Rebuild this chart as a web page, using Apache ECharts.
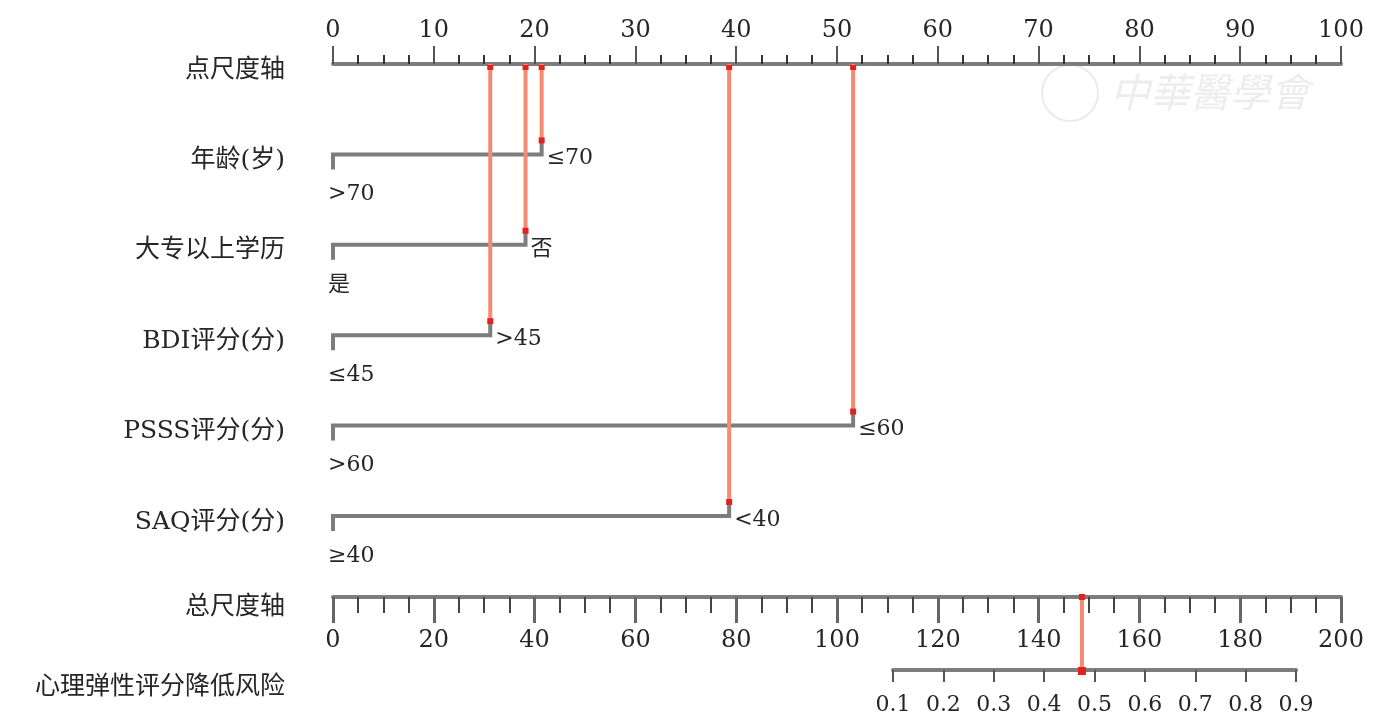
<!DOCTYPE html>
<html>
<head>
<meta charset="utf-8">
<script src="https://cdn.jsdelivr.net/npm/echarts@6/dist/echarts.min.js"></script>
<style>
  html, body { margin: 0; padding: 0; background: #fff; }
  #chart { width: 1380px; height: 726px; }
</style>
</head>
<body>
<div id="chart"></div>
<script>
  // 行名称（点尺度轴 + 各变量）
  const rowNames = ['点尺度轴', '年龄(岁)', '大专以上学历', 'BDI评分(分)', 'PSSS评分(分)', 'SAQ评分(分)']
  // 各变量右端对应的得分
  const varPoints = [20.7, 19.1, 15.6, 51.6, 39.3]
  // 左端（0分）水平 / 右端水平
  const lowLevels = ['>70', '是', '≤45', '>60', '≥40']
  const highLevels = ['≤70', '否', '>45', '≤60', '<40']
  // 总分及风险轴
  const totalLabel = '总尺度轴'
  const riskLabel = '心理弹性评分降低风险'
  const totalPoints = [148.6]
  const riskMin = 0.1
  const riskMax = 0.9

  const GREY = '#7d7d7d'
  const RED_LINE = '#f48a72'
  const RED_DOT = '#e3221e'
  const TXT = '#262626'
  const NUM_FONT = "'DejaVu Serif', 'Noto Sans CJK SC'"
  const CJK_FONT = "'DejaVu Serif', 'Noto Sans CJK SC'"

  let chart = echarts.init(document.getElementById('chart'))

  let option = {
    animation: false,
    backgroundColor: '#fff',
    grid: [
      { left: 333, right: 39, top: 64, height: 452 },
      { left: 333, right: 39, top: 597, height: 73 },
      { left: 893, right: 84, top: 640, height: 30 }
    ],
    graphic: [
      // 水印
      { type: 'circle', shape: { cx: 1070, cy: 93, r: 28 }, style: { stroke: '#ebebeb', fill: null, lineWidth: 2 }, z: -1 },
      { type: 'text', left: 1110, top: 72, z: -1,
        style: { text: '中華醫學會', fontSize: 40, fontStyle: 'italic', fontFamily: 'Noto Sans CJK TC', fill: '#ededed' } }
    ],
    xAxis: [
      {
        gridIndex: 0, type: 'value', position: 'top', min: 0, max: 100, interval: 10,
        axisLine: { show: true, onZero: false, lineStyle: { color: GREY, width: 4 } },
        axisTick: { show: true, length: 18, lineStyle: { color: '#555', width: 2 } },
        minorTick: { show: true, splitNumber: 4, length: 9, lineStyle: { color: '#333', width: 2 } },
        axisLabel: { margin: 21, fontSize: 24, fontFamily: NUM_FONT, color: TXT },
        splitLine: { show: false }
      },
      {
        gridIndex: 1, type: 'value', position: 'top', min: 0, max: 200, interval: 20,
        axisLine: { show: true, onZero: false, lineStyle: { color: GREY, width: 4 } },
        axisTick: { show: true, inside: true, length: 26, lineStyle: { color: '#666', width: 3 } },
        minorTick: { show: true, splitNumber: 4, length: 16, lineStyle: { color: '#444', width: 2 } },
        axisLabel: { inside: true, margin: 32, fontSize: 24, fontFamily: NUM_FONT, color: TXT },
        splitLine: { show: false }
      },
      {
        gridIndex: 2, type: 'value', position: 'bottom', min: riskMin, max: riskMax, interval: 0.1,
        axisLine: { show: true, onZero: false, lineStyle: { color: GREY, width: 4 } },
        axisTick: { show: true, length: 12, lineStyle: { color: '#555', width: 2 } },
        axisLabel: { margin: 24, fontSize: 22, fontFamily: NUM_FONT, color: TXT,
          formatter: function(v) { return v.toFixed(1) } },
        splitLine: { show: false }
      }
    ],
    yAxis: [
      {
        gridIndex: 0, type: 'value', min: 0, max: 5, interval: 1, inverse: true,
        axisLine: { show: false }, axisTick: { show: false }, splitLine: { show: false },
        axisLabel: { margin: 48, fontSize: 25, fontFamily: CJK_FONT, color: TXT,
          verticalAlign: 'top', lineHeight: 12,
          formatter: function(v) { return rowNames[v] || '' } }
      },
      {
        gridIndex: 1, type: 'value', min: 0, max: 1, interval: 1,
        axisLine: { show: false }, axisTick: { show: false }, splitLine: { show: false },
        axisLabel: { margin: 48, fontSize: 25, fontFamily: CJK_FONT, color: TXT,
          verticalAlign: 'top', lineHeight: 20,
          formatter: function(v) { return v === 1 ? totalLabel : '' } }
      },
      {
        gridIndex: 2, type: 'value', min: 0, max: 1, interval: 1,
        axisLine: { show: false }, axisTick: { show: false }, splitLine: { show: false },
        axisLabel: { margin: 608, fontSize: 25, fontFamily: CJK_FONT, color: TXT,
          verticalAlign: 'top', lineHeight: 34,
          formatter: function(v) { return v === 0 ? riskLabel : '' } }
      }
    ],
    series: [
      {
        // 各变量的刻度线
        type: 'custom', xAxisIndex: 0, yAxisIndex: 0, z: 3,
        data: varPoints.map((p, i) => [p, i + 1]),
        renderItem: function(params, api) {
          let i = params.dataIndex
          let p0 = api.coord([0, api.value(1)])
          let p1 = api.coord([api.value(0), api.value(1)])
          let txt = { fill: TXT, fontSize: 22, fontFamily: NUM_FONT, verticalAlign: 'middle', align: 'left' }
          return {
            type: 'group',
            children: [
              { type: 'polyline',
                shape: { points: [[p0[0], p0[1] + 15], [p0[0], p0[1]], [p1[0], p1[1]], [p1[0], p1[1] - 14]] },
                style: { stroke: GREY, lineWidth: 4, fill: null, lineJoin: 'miter' } },
              { type: 'text', x: p0[0] - 5, y: p0[1] + 40, style: Object.assign({ text: lowLevels[i] }, txt) },
              { type: 'text', x: p1[0] + 5, y: p1[1] + 4, style: Object.assign({ text: highLevels[i] }, txt) }
            ]
          }
        }
      },
      {
        // 红色连接线
        type: 'custom', xAxisIndex: 0, yAxisIndex: 0, z: 5,
        data: varPoints.map((p, i) => [p, i + 1]),
        renderItem: function(params, api) {
          let top = api.coord([api.value(0), 0])
          let bot = api.coord([api.value(0), api.value(1)])
          return {
            type: 'group',
            children: [
              { type: 'line', shape: { x1: top[0], y1: top[1], x2: bot[0], y2: bot[1] - 14 },
                style: { stroke: RED_LINE, lineWidth: 4 } },
              { type: 'rect', shape: { x: top[0] - 3, y: top[1] + 1, width: 6, height: 5 }, style: { fill: RED_DOT } },
              { type: 'rect', shape: { x: bot[0] - 3, y: bot[1] - 17, width: 6, height: 6 }, style: { fill: RED_DOT } }
            ]
          }
        }
      },
      {
        // 总分到风险的红线
        type: 'custom', xAxisIndex: 1, yAxisIndex: 1, z: 5,
        data: totalPoints.map(v => [v]),
        renderItem: function(params, api) {
          let a = api.coord([api.value(0), 1])
          let b = api.coord([api.value(0), 0])
          return {
            type: 'group',
            children: [
              { type: 'line', shape: { x1: a[0], y1: a[1], x2: b[0], y2: b[1] },
                style: { stroke: RED_LINE, lineWidth: 4 } },
              { type: 'rect', shape: { x: a[0] - 3, y: a[1] - 3, width: 6, height: 6 }, style: { fill: RED_DOT } },
              { type: 'rect', shape: { x: b[0] - 4, y: b[1] - 3, width: 8, height: 8 }, style: { fill: RED_DOT } }
            ]
          }
        }
      }
    ]
  }

  chart.setOption(option, true)
  window.onresize = chart.resize
</script>
</body>
</html>
